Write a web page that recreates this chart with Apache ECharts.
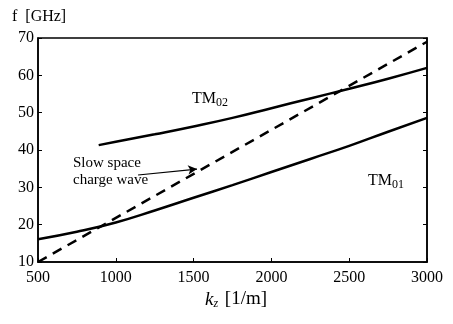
<!DOCTYPE html>
<html>
<head>
<meta charset="utf-8">
<script src="https://cdn.jsdelivr.net/npm/echarts@6/dist/echarts.min.js"></script>
<style>
  html, body { margin: 0; padding: 0; background: #fff; }
  #chart { width: 453px; height: 324px; }
</style>
</head>
<body>
<div id="chart"></div>
<script>
// dispersion curves
const kz01 = [500, 750, 1000, 1250, 1500, 1750, 2000, 2250, 2500, 2750, 3000];
const f01  = [16.1, 18.1, 20.6, 23.8, 27.2, 30.6, 34.1, 37.6, 41.1, 44.9, 48.6];

const kz02 = [890, 1000, 1250, 1500, 1750, 2000, 2250, 2500, 2750, 3000];
const f02  = [41.3, 42.2, 44.2, 46.3, 48.6, 51.2, 53.8, 56.4, 59.1, 62.0];

const kzSlow = [500, 3000];
const fSlow  = [10, 69];

// arrow from the "slow space charge wave" label to the dashed line
const arrowFrom = [1143, 33.3];
const arrowTo   = [1522, 34.9];

const SERIF = '"Liberation Serif", "DejaVu Serif", serif';

const pairs = (xs, ys) => xs.map((x, i) => [x, ys[i]]);

const chart = echarts.init(document.getElementById('chart'));

chart.setOption({
  animation: false,
  backgroundColor: '#fff',
  grid: { left: 38, right: 26, top: 38, bottom: 62, show: true, borderColor: '#000', borderWidth: 1.5 },
  xAxis: {
    type: 'value', min: 500, max: 3000, interval: 500,
    axisLine: { lineStyle: { color: '#000', width: 1.5 } },
    axisTick: { inside: true, length: 4, lineStyle: { color: '#000' } },
    axisLabel: { color: '#000', fontFamily: SERIF, fontSize: 16, margin: 8, formatter: v => String(v) },
    splitLine: { show: false }
  },
  yAxis: [{
    type: 'value', min: 10, max: 70, interval: 10,
    axisLine: { show: true, lineStyle: { color: '#000', width: 1.5 } },
    axisTick: { show: true, inside: true, length: 4, lineStyle: { color: '#000' } },
    axisLabel: { color: '#000', fontFamily: SERIF, fontSize: 16, margin: 4 },
    splitLine: { show: false }
  }, {
    type: 'value', min: 10, max: 70, interval: 10, position: 'right',
    axisLine: { show: true, lineStyle: { color: '#000', width: 1.5 } },
    axisTick: { show: true, inside: true, length: 4, lineStyle: { color: '#000' } },
    axisLabel: { show: false },
    splitLine: { show: false }
  }],
  series: [
    {
      name: 'TM01', type: 'line', smooth: true, symbol: 'none',
      data: pairs(kz01, f01),
      lineStyle: { color: '#000', width: 2.5 }
    },
    {
      name: 'TM02', type: 'line', smooth: true, symbol: 'none',
      data: pairs(kz02, f02),
      lineStyle: { color: '#000', width: 2.5 }
    },
    {
      name: 'slow', type: 'line', symbol: 'none',
      data: pairs(kzSlow, fSlow),
      lineStyle: { color: '#000', width: 2.5, type: [10, 7] },
      markLine: {
        silent: true,
        symbol: ['none', 'arrow'],
        symbolSize: [7, 9],
        label: { show: false },
        lineStyle: { color: '#000', width: 1.2, type: 'solid' },
        data: [[{ coord: arrowFrom }, { coord: arrowTo }]]
      }
    }
  ],
  graphic: [
    {
      type: 'text', left: 12, top: 9,
      style: { text: 'f  [GHz]', font: '16px ' + SERIF, fill: '#000' }
    },
    {
      type: 'text', left: 205, top: 290,
      style: {
        text: '{k|k}{z|z} [1/m]',
        fill: '#000',
        rich: {
          k: { fontFamily: SERIF, fontSize: 19, fontStyle: 'italic' },
          z: { fontFamily: SERIF, fontSize: 12, fontStyle: 'italic', verticalAlign: 'bottom', padding: [8, 2, 0, 0] }
        },
        font: '19px ' + SERIF
      }
    },
    {
      type: 'text', left: 192, top: 91,
      style: {
        text: '{t|TM}{s|02}',
        fill: '#000',
        rich: {
          t: { fontFamily: SERIF, fontSize: 16 },
          s: { fontFamily: SERIF, fontSize: 12, padding: [7, 0, 0, 0] }
        }
      }
    },
    {
      type: 'text', left: 368, top: 173,
      style: {
        text: '{t|TM}{s|01}',
        fill: '#000',
        rich: {
          t: { fontFamily: SERIF, fontSize: 16 },
          s: { fontFamily: SERIF, fontSize: 12, padding: [7, 0, 0, 0] }
        }
      }
    },
    {
      type: 'text', left: 73, top: 155,
      style: {
        text: 'Slow space\ncharge wave',
        font: '15px ' + SERIF, fill: '#000', align: 'center', lineHeight: 17,
        x: 38
      }
    }
  ]
});
</script>
</body>
</html>
